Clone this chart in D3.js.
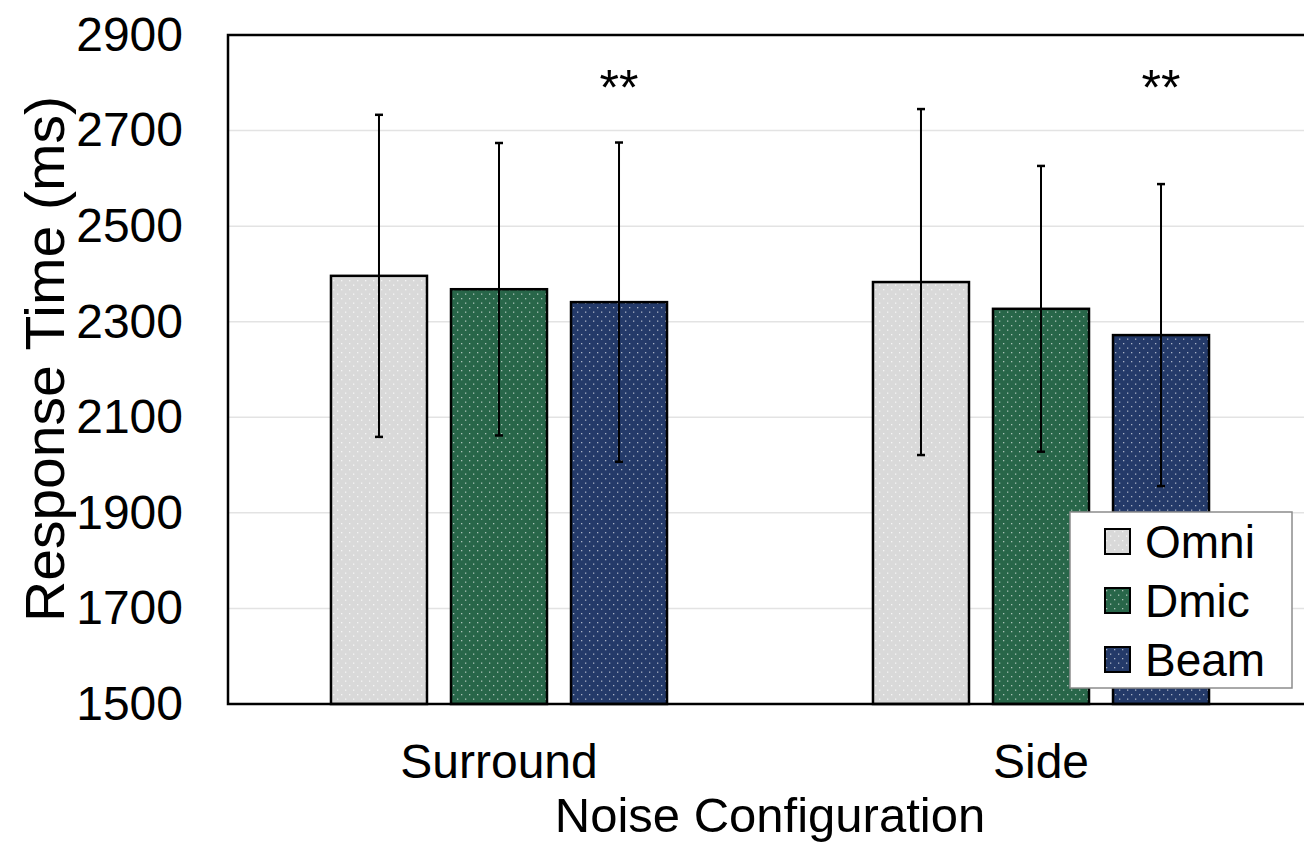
<!DOCTYPE html>
<html>
<head>
<meta charset="utf-8">
<script src="https://cdn.jsdelivr.net/npm/d3@7"></script>
<style>
  body { margin: 0; background: #fff; overflow: hidden; }
  svg { display: block; font-family: "Liberation Sans", Arial, sans-serif; }
</style>
</head>
<body>
<svg id="chart" width="1304" height="842"></svg>
<script>
// data
var categories = ["Surround", "Side"];
var series = ["Omni", "Dmic", "Beam"];
var means = [
  [2396, 2368, 2341],   // Surround
  [2383, 2327, 2272]    // Side
];
var sds = [
  [337, 306, 334],
  [362, 299, 316]
];
var sigLabels = [
  ["", "", "**"],
  ["", "", "**"]
];
var yTicks = [1500, 1700, 1900, 2100, 2300, 2500, 2700, 2900];
var colors = ["#d9d9d9", "#286649", "#243a69"];
var yTitle = "Response Time (ms)";
var xTitle = "Noise Configuration";

var svg = d3.select("#chart"),
    margin = {top: 35, left: 228},
    plotW = 1084,
    plotH = 669;

var defs = svg.append("defs");
colors.forEach(function(c, i) {
  var p = defs.append("pattern")
      .attr("id", "dots" + i)
      .attr("patternUnits", "userSpaceOnUse")
      .attr("width", 8).attr("height", 9);
  p.append("rect").attr("width", 8).attr("height", 9).attr("fill", c);
  var op = i == 0 ? 0.75 : 0.6;
  p.append("rect").attr("x", 1).attr("y", 2).attr("width", 1.3).attr("height", 1.3)
      .attr("fill", "#fff").attr("opacity", op);
  p.append("rect").attr("x", 5).attr("y", 6.5).attr("width", 1.3).attr("height", 1.3)
      .attr("fill", "#fff").attr("opacity", op);
});

var g = svg.append("g").attr("transform", "translate(" + margin.left + "," + margin.top + ")");

var x0 = d3.scaleBand().domain(categories).range([0, plotW]);
var groupW = x0.bandwidth() * 0.62;
var x1 = d3.scaleBand().domain(series)
    .range([(x0.bandwidth() - groupW) / 2, (x0.bandwidth() + groupW) / 2])
    .paddingInner(0.2);
var y = d3.scaleLinear().domain([1500, 2900]).range([plotH, 0]);

// gridlines
g.append("g").selectAll("line")
  .data(yTicks.slice(1, -1))
  .enter().append("line")
    .attr("x1", 0).attr("x2", plotW)
    .attr("y1", function(d) { return y(d); })
    .attr("y2", function(d) { return y(d); })
    .attr("stroke", "#e3e3e3").attr("stroke-width", 1.5);

// y axis labels
var yAxis = g.append("g")
    .call(d3.axisLeft(y).tickValues(yTicks).tickSize(0).tickPadding(45).tickFormat(d3.format("d")));
yAxis.select(".domain").remove();
yAxis.selectAll("text")
    .attr("font-size", 48)
    .attr("font-family", "Liberation Sans, Arial, sans-serif")
    .attr("fill", "#000");

// bars
var rows = [];
categories.forEach(function(c, ci) {
  series.forEach(function(s, si) {
    rows.push({cat: c, ser: s, si: si, mean: means[ci][si], sd: sds[ci][si], sig: sigLabels[ci][si]});
  });
});

var groups = g.selectAll(".grp")
  .data(rows)
  .enter().append("g")
    .attr("transform", function(d) { return "translate(" + x0(d.cat) + ",0)"; });

groups.append("rect")
    .attr("x", function(d) { return x1(d.ser); })
    .attr("y", function(d) { return y(d.mean); })
    .attr("width", x1.bandwidth())
    .attr("height", function(d) { return plotH - y(d.mean); })
    .attr("fill", function(d) { return "url(#dots" + d.si + ")"; })
    .attr("stroke", "#000").attr("stroke-width", 2.5);

// error bars
var cx = function(d) { return x1(d.ser) + x1.bandwidth() / 2; };
groups.append("line")
    .attr("x1", cx).attr("x2", cx)
    .attr("y1", function(d) { return y(d.mean + d.sd); })
    .attr("y2", function(d) { return y(d.mean - d.sd); })
    .attr("stroke", "#000").attr("stroke-width", 2);
[1, -1].forEach(function(sign) {
  groups.append("line")
      .attr("x1", function(d) { return cx(d) - 4; })
      .attr("x2", function(d) { return cx(d) + 4; })
      .attr("y1", function(d) { return y(d.mean + sign * d.sd); })
      .attr("y2", function(d) { return y(d.mean + sign * d.sd); })
      .attr("stroke", "#000").attr("stroke-width", 2.5);
});

// significance markers
groups.filter(function(d) { return d.sig; })
  .append("text")
    .attr("x", cx)
    .attr("y", 70)
    .attr("text-anchor", "middle")
    .attr("font-size", 50)
    .text(function(d) { return d.sig; });

// frame: left, top, bottom
g.append("path")
    .attr("d", "M" + plotW + ",0H0V" + plotH + "H" + plotW)
    .attr("fill", "none").attr("stroke", "#000").attr("stroke-width", 2.5);

// category labels
var xAxis = g.append("g")
    .attr("transform", "translate(0," + plotH + ")")
    .call(d3.axisBottom(x0).tickSize(0).tickPadding(40));
xAxis.select(".domain").remove();
xAxis.selectAll("text")
    .attr("font-size", 48)
    .attr("font-family", "Liberation Sans, Arial, sans-serif")
    .attr("fill", "#000");

// axis titles
svg.append("text")
    .attr("x", 770).attr("y", 832)
    .attr("text-anchor", "middle")
    .attr("font-size", 49)
    .text(xTitle);

svg.append("text")
    .attr("transform", "translate(64,359) rotate(-90)")
    .attr("text-anchor", "middle")
    .attr("font-size", 56)
    .attr("textLength", 526)
    .attr("lengthAdjust", "spacingAndGlyphs")
    .text(yTitle);

// legend
var leg = svg.append("g").attr("transform", "translate(1070,512)");
leg.append("rect")
    .attr("width", 222).attr("height", 176)
    .attr("fill", "#fff").attr("stroke", "#8c8c8c").attr("stroke-width", 1.5);
var li = leg.selectAll(".li")
  .data(series)
  .enter().append("g")
    .attr("transform", function(d, i) { return "translate(35," + (17 + i * 59) + ")"; });
li.append("rect")
    .attr("width", 25).attr("height", 25)
    .attr("fill", function(d, i) { return "url(#dots" + i + ")"; })
    .attr("stroke", "#000").attr("stroke-width", 2);
li.append("text")
    .attr("x", 40).attr("y", 29)
    .attr("font-size", 46)
    .text(function(d) { return d; });
</script>
</body>
</html>
